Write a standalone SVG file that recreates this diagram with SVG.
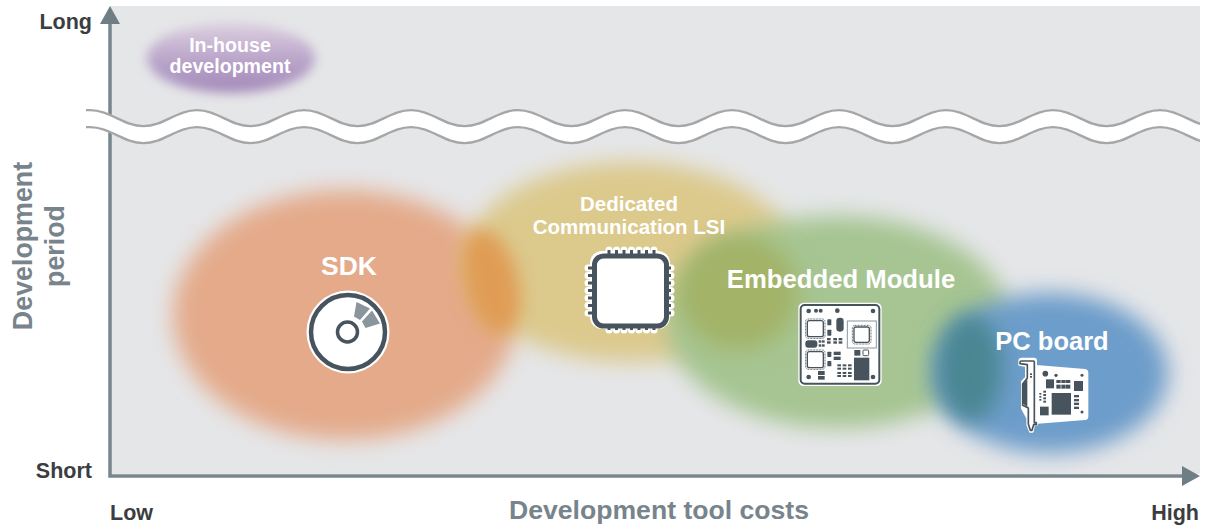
<svg xmlns="http://www.w3.org/2000/svg" width="1218" height="526" viewBox="0 0 1218 526">
<style>
text{font-family:"Liberation Sans",Arial,sans-serif;font-weight:700}
.w{fill:#fff;text-anchor:middle}
.k{fill:#3b3d40}
.g{fill:#78848b}
.d{fill:#47545d}
.axis{stroke:#78868d;stroke-width:3.5;fill:none}
.head{fill:#6f7d85}
.wave{fill:none;stroke:#a4a6a8;stroke-width:2.3}
</style>
<defs>
<filter id="b12" x="-30%" y="-30%" width="160%" height="160%"><feGaussianBlur stdDeviation="11"/></filter>
<filter id="b8" x="-40%" y="-40%" width="180%" height="180%"><feGaussianBlur stdDeviation="9"/></filter>
<filter id="b6" x="-30%" y="-30%" width="160%" height="160%"><feGaussianBlur stdDeviation="5.500"/></filter>
<linearGradient id="pur" x1="0" y1="0" x2="0" y2="1"><stop offset="0" stop-color="#ddcfe0"/><stop offset="0.55" stop-color="#b8a3c9"/><stop offset="1" stop-color="#a288b8"/></linearGradient>
<clipPath id="cw"><rect x="86" y="90" width="1114" height="70"/></clipPath>
<path id="wv" d="M86 110.100H90c20 0 33.500 16 53.500 16s33.500-16 53.500-16s33.500 16 53.500 16s33.500-16 53.500-16s33.500 16 53.500 16s33.500-16 53.500-16s33.500 16 53.500 16s33.500-16 53.500-16s33.500 16 53.500 16s33.500-16 53.500-16s33.500 16 53.500 16s33.500-16 53.500-16s33.500 16 53.500 16s33.500-16 53.500-16s33.500 16 53.500 16s33.500-16 53.500-16s33.500 16 53.500 16s33.500-16 53.500-16s33.500 16 53.500 16s33.500-16 53.500-16s33.500 16 53.500 16"/>
</defs>

<rect x="110" y="6" width="1090" height="468" fill="#e5e6e8"/>

<g id="blobs">
<ellipse cx="345" cy="315" rx="172" ry="125" fill="#e4aa8a" filter="url(#b12)"/>
<ellipse cx="630" cy="262" rx="167" ry="100" fill="#dcc98c" filter="url(#b12)"/>
<ellipse cx="838" cy="322" rx="172" ry="106" fill="#a6c592" filter="url(#b12)"/>
<ellipse cx="1050" cy="373" rx="118" ry="80" fill="#6d9dca" filter="url(#b12)"/>
<ellipse cx="491" cy="282" rx="27" ry="54" fill="#e09c55" transform="rotate(-14 491 282)" filter="url(#b8)"/>
<ellipse cx="738" cy="292" rx="60" ry="58" fill="#a3b367" filter="url(#b12)"/>
<ellipse cx="970" cy="368" rx="32" ry="54" fill="#4a8692" filter="url(#b12)"/>
</g>

<g id="axes">
<path class="axis" d="M110 24V476H1184"/>
<path class="head" d="M110 6L120 24H100Z"/>
<path class="head" d="M1182 466L1200 476L1182 486Z"/>
</g>

<g id="break" clip-path="url(#cw)">
<use href="#wv" transform="translate(0 8.500)" fill="none" stroke="#fff" stroke-width="17"/>
<use href="#wv" class="wave"/>
<use href="#wv" class="wave" transform="translate(0 17)"/>
</g>

<g id="node-inhouse">
<ellipse cx="231" cy="58" rx="84" ry="35" fill="url(#pur)" filter="url(#b6)"/>
<text class="w" x="230" y="52" font-size="19.600">In-house</text>
<text class="w" x="230" y="73" font-size="19.600">development</text>
</g>

<g id="node-sdk">
<text class="w" x="349" y="275" font-size="26.500">SDK</text>
<circle cx="348" cy="332" r="41.500" fill="#fff"/>
<circle cx="348" cy="332" r="37" fill="#fff" stroke="#47545d" stroke-width="4.500"/>
<path d="M356.500 302L370 308.500L360 320L354 316.500Z" fill="#8a959c"/>
<path d="M372 310.500L380 323.500L365.500 328L362 321.500Z" fill="#8a959c"/>
<circle cx="347.500" cy="332" r="10" fill="#fff" stroke="#47545d" stroke-width="3.500"/>
</g>

<g id="node-lsi">
<text class="w" x="629" y="211" font-size="20.500">Dedicated</text>
<text class="w" x="629" y="234" font-size="20.500">Communication LSI</text>
<rect x="590" y="251" width="80" height="78" rx="12" fill="#fff"/>
<g stroke="#fff" stroke-width="7" stroke-linecap="round" fill="none">
<path d="M609 250v6M616.500 250v6M624 250v6M631.500 250v6M639 250v6M646.500 250v6M654 250v6"/>
<path d="M609 324v6M616.500 324v6M624 324v6M631.500 324v6M639 324v6M646.500 324v6M654 324v6"/>
<path d="M588 268h6M588 275.500h6M588 283h6M588 290.500h6M588 298h6M588 305.500h6M588 313h6"/>
<path d="M665 268h6M665 275.500h6M665 283h6M665 290.500h6M665 298h6M665 305.500h6M665 313h6"/>
</g>
<g stroke="#47545d" stroke-width="3" fill="none">
<path d="M609 250v6M616.500 250v6M624 250v6M631.500 250v6M639 250v6M646.500 250v6M654 250v6"/>
<path d="M609 324v6M616.500 324v6M624 324v6M631.500 324v6M639 324v6M646.500 324v6M654 324v6"/>
<path d="M588 268h6M588 275.500h6M588 283h6M588 290.500h6M588 298h6M588 305.500h6M588 313h6"/>
<path d="M665 268h6M665 275.500h6M665 283h6M665 290.500h6M665 298h6M665 305.500h6M665 313h6"/>
</g>
<rect x="594.500" y="256" width="72" height="70" rx="9" fill="#fff" stroke="#47545d" stroke-width="5"/>
</g>

<g id="node-embedded">
<text class="w" x="841" y="288" font-size="25.700">Embedded Module</text>
<g transform="translate(790 295) scale(.3333)">
<rect x="25" y="23" width="250" height="250" rx="16" fill="#fff"/>
<rect x="32" y="30" width="236" height="236" rx="12" fill="#fff" stroke="#47545d" stroke-width="6"/>
<g class="d">
<circle cx="56" cy="48" r="7"/><circle cx="78" cy="47" r="6"/><circle cx="92" cy="47" r="6"/><circle cx="142" cy="47" r="7"/><circle cx="249" cy="48" r="7"/>
<circle cx="56" cy="246" r="7"/><circle cx="249" cy="246" r="7"/>
<rect x="112" y="73" width="12" height="18" rx="2"/><rect x="112" y="104" width="12" height="18" rx="2"/>
<rect x="139" y="68" width="22" height="42" rx="10"/>
<rect x="46" y="136" width="36" height="22" rx="9"/>
<rect x="86" y="136" width="8" height="7"/><rect x="96" y="136" width="8" height="7"/><rect x="86" y="148" width="8" height="7"/><rect x="96" y="148" width="8" height="7"/>
<rect x="111" y="129" width="11" height="7"/><rect x="130" y="129" width="11" height="7"/><rect x="146" y="129" width="11" height="7"/><rect x="111" y="139" width="11" height="7"/><rect x="130" y="139" width="11" height="7"/><rect x="146" y="139" width="11" height="7"/>
<rect x="112" y="170" width="12" height="16" rx="2"/><rect x="112" y="198" width="12" height="16" rx="2"/>
<rect x="131" y="170" width="21" height="10"/><rect x="131" y="185" width="21" height="10"/>
<rect x="84" y="228" width="20" height="12"/><rect x="84" y="243" width="20" height="11"/>
<rect x="142" y="208" width="11" height="6"/><rect x="158" y="208" width="11" height="6"/><rect x="174" y="208" width="11" height="6"/><rect x="142" y="218" width="11" height="6"/><rect x="158" y="218" width="11" height="6"/><rect x="174" y="218" width="11" height="6"/>
<rect x="142" y="231" width="11" height="6"/><rect x="158" y="231" width="11" height="6"/><rect x="174" y="231" width="11" height="6"/><rect x="142" y="240" width="11" height="6"/><rect x="158" y="240" width="11" height="6"/><rect x="174" y="240" width="11" height="6"/>
<rect x="193" y="165" width="18" height="17"/>
<rect x="192" y="188" width="46" height="68"/>
</g>
<rect x="219" y="165" width="17" height="17" rx="3" fill="#fff" stroke="#47545d" stroke-width="3"/>
<g fill="#fff" stroke="#47545d" stroke-width="4">
<rect x="52" y="77" width="48" height="48" rx="6"/>
<rect x="52" y="170" width="48" height="48" rx="6"/>
<rect x="192" y="96" width="46" height="46" rx="6"/>
</g>
<g fill="none" stroke="#47545d" stroke-width="3" stroke-dasharray="2.500 2">
<rect x="47" y="72" width="58" height="58" rx="8"/>
<rect x="47" y="165" width="58" height="58" rx="8"/>
<rect x="187" y="91" width="56" height="56" rx="8"/>
</g>
<rect x="172" y="78" width="87" height="81" fill="none" stroke="#8a959c" stroke-width="3"/>
</g>
</g>

<g id="node-pc">
<text class="w" x="1052" y="350" font-size="25.500">PC board</text>
<g transform="translate(1010 350) scale(.3333)">
<path d="M78 48L225 60Q232 61 232 68V200Q232 206 225 207L84 218L80 222V225H72L68 245H60L52 225V205L36 175V95L48 82V48L28 44V32Q28 26 36 26H72Q78 26 78 32Z" fill="#fff" stroke="#fff" stroke-width="6" stroke-linejoin="round"/>
<path d="M30 41V36Q30 33 34 33H70Q73 33 73 36V218H79V224H71L66 241H61L55 222V174L38 166V102L52 84V44Z" fill="none" stroke="#47545d" stroke-width="5" stroke-linejoin="round"/>
<path d="M38 102L52 88V172L38 160Z" fill="#47545d"/>
<g class="d">
<rect x="60" y="70" width="6" height="5"/><rect x="60" y="78" width="6" height="5"/>
<circle cx="106" cy="71" r="8.500"/><circle cx="138" cy="76" r="5"/><circle cx="216" cy="76" r="4.500"/><circle cx="216" cy="186" r="4.500"/>
<rect x="108" y="88" width="24" height="27"/>
<rect x="139" y="90" width="13" height="9"/><rect x="154" y="90" width="13" height="9"/><rect x="168" y="90" width="13" height="9"/>
<rect x="139" y="104" width="13" height="12"/><rect x="154" y="104" width="13" height="12"/><rect x="168" y="104" width="13" height="12"/>
<rect x="192" y="93" width="27" height="30"/>
<rect x="125" y="129" width="58" height="65"/>
<rect x="88" y="129" width="6" height="5"/><rect x="88" y="138" width="6" height="5"/><rect x="88" y="147" width="6" height="5"/>
<rect x="100" y="122" width="8" height="6"/><rect x="100" y="132" width="8" height="6"/><rect x="100" y="142" width="8" height="6"/><rect x="100" y="152" width="8" height="6"/>
<rect x="90" y="170" width="26" height="26"/>
<rect x="192" y="135" width="15" height="7"/><rect x="192" y="147" width="15" height="7"/><rect x="192" y="158" width="15" height="7"/><rect x="192" y="170" width="15" height="7"/>
</g>
</g>
</g>

<g id="labels">
<text class="k" x="92" y="29" font-size="21.500" text-anchor="end">Long</text>
<text class="k" x="92" y="478" font-size="21.500" text-anchor="end">Short</text>
<text class="k" x="110" y="520" font-size="21.500">Low</text>
<text class="k" x="1199" y="520" font-size="21.500" text-anchor="end">High</text>
<text class="g" x="659" y="519" font-size="26.600" text-anchor="middle">Development tool costs</text>
<text class="g" transform="translate(32 246) rotate(-90)" font-size="26.800" text-anchor="middle">Development</text>
<text class="g" transform="translate(64 246) rotate(-90)" font-size="26.800" text-anchor="middle">period</text>
</g>
</svg>
